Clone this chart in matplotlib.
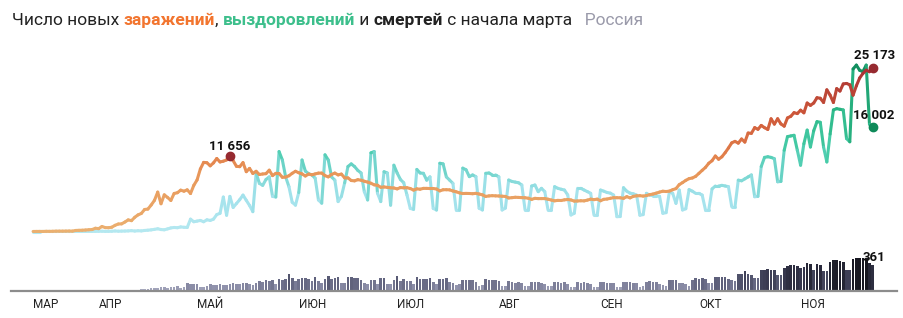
import numpy as np
import pandas as pd
import matplotlib
matplotlib.use('Agg')
import matplotlib.pyplot as plt
from matplotlib.collections import LineCollection
from matplotlib.colors import LinearSegmentedColormap, Normalize

plt.rcParams['font.family'] = ['Roboto', 'DejaVu Sans']

# daily data, 12 March .. 23 November 2020
cases_mar = [6, 11, 14, 4, 30, 21, 33, 52, 54, 53, 61, 71, 57, 163, 182, 196, 228, 270, 302, 501]
cases_apr = [440, 771, 601, 582, 658, 954, 1154, 1175, 1459, 1786, 1667, 2186, 2558, 2774, 3388,
             3448, 4070, 4785, 6060, 4268, 5642, 5236, 4774, 5849, 5966, 6361, 6198, 6411, 5841, 7099]
cases_may = [7933, 9623, 10633, 10581, 10102, 10559, 11231, 10699, 10817, 11012, 11656, 10899, 10028,
             9974, 10598, 9200, 9709, 8926, 9263, 8764, 8849, 8894, 9434, 8599, 8946, 8915, 8338, 8371,
             8572, 8952, 9268]
cases_jun = [9035, 8863, 8536, 8831, 8726, 8855, 8984, 8985, 8595, 8404, 8779, 8987, 8706, 8835, 8246,
             8248, 7843, 7790, 7972, 7889, 7728, 7600, 7425, 7176, 7113, 6800, 6852, 6791, 6719, 6693]
cases_jul = [6556, 6760, 6718, 6736, 6611, 6368, 6562, 6509, 6635, 6632, 6611, 6615, 6537, 6248, 6422,
             6428, 6406, 6234, 6109, 5940, 5842, 5862, 5848, 5811, 5871, 5765, 5635, 5395, 5475, 5509, 5482]
cases_aug = [5462, 5427, 5394, 5159, 5204, 5267, 5241, 5212, 5189, 5118, 4945, 5102, 5057, 5061, 5065,
             4969, 4839, 4718, 4790, 4767, 4870, 4921, 4852, 4676, 4696, 4729, 4711, 4829, 4980, 4897, 4980]
cases_sep = [4729, 4952, 4995, 5110, 5205, 5195, 5185, 5099, 5363, 5172, 5406, 5488, 5509, 5449, 5529,
             5670, 5762, 5905, 6065, 6196, 6148, 6215, 6431, 6595, 7212, 7523, 7867, 8135, 8232, 8481]
cases_oct = [8945, 9412, 9859, 10499, 10888, 11615, 11115, 11493, 12126, 12846, 13634, 13868, 13592,
             14231, 13754, 15150, 15099, 15982, 15722, 16319, 15971, 15700, 17340, 16521, 17347, 16550,
             16202, 17473, 17717, 18283, 18140]
cases_nov = [18665, 18257, 19768, 19404, 19768, 20582, 20498, 19850, 21798, 20977, 19851, 21983, 21608,
             22702, 22778, 22572, 20977, 22410, 23610, 24318, 24822, 24581, 25173]

recov_mar = [0, 0, 0, 2, 1, 3, 0, 2, 5, 4, 9, 0, 4, 8, 4, 10, 6, 12, 15, 20]
recov_apr = [30, 45, 20, 25, 40, 80, 45, 60, 70, 90, 130, 70, 120, 90, 160,
             200, 250, 330, 420, 300, 260, 400, 550, 620, 580, 700, 650, 620, 1900, 1500]
recov_may = [1600, 1700, 1500, 1800, 1700, 1900, 2600, 2800, 5300, 2500, 5400, 3700, 4300, 4900, 5600,
             4800, 4000, 3050, 9000, 7400, 7100, 8000, 8400, 5400, 5300, 12300, 11000, 8400, 6900, 4500, 4050]
recov_jun = [6000, 11000, 9300, 8900, 8700, 8200, 4850, 4350, 11800, 11000, 8400, 7900, 4600, 5400, 7500,
             10000, 10400, 10000, 9400, 9000, 6100, 4850, 12100, 12300, 5900, 4600, 9200, 9000, 4050, 10200]
recov_jul = [9000, 8000, 7500, 5600, 3550, 3400, 9550, 9000, 8950, 7900, 8400, 3550, 3300, 10500, 10400,
             8400, 7900, 7400, 3300, 3300, 9750, 9500, 8440, 8700, 8440, 3570, 3310, 8950, 9000, 8700, 8700]
recov_aug = [8400, 3310, 3600, 7920, 7700, 7600, 7500, 7150, 3310, 3310, 7000, 7150, 6130, 6640, 6130,
             3310, 3310, 6900, 6640, 6500, 6380, 5620, 2540, 2800, 6640, 6640, 6380, 6130, 5870, 2540, 2540]
recov_sep = [6380, 6200, 6000, 5900, 5600, 2280, 2300, 6740, 6200, 5900, 5800, 5600, 2500, 2600, 5870,
             5600, 5500, 5500, 5400, 2800, 2900, 6130, 5870, 4330, 6380, 3310, 3500, 6450, 6200, 5870]
recov_oct = [5870, 5600, 3310, 3310, 6550, 7000, 7000, 7100, 7000, 6900, 3820, 3820, 7900, 7800, 8100,
             8400, 8700, 5350, 5400, 10000, 11400, 11500, 11400, 11200, 7650, 7700, 12500, 14600, 14700,
             14800, 12500]
recov_nov = [10200, 13500, 15600, 13000, 15500, 16900, 16800, 13000, 10700, 15000, 18700, 18900, 18800,
             18700, 14300, 13800, 25000, 25600, 24800, 24600, 25600, 16500, 16002]

death_mar = [0, 0, 0, 0, 0, 0, 0, 1, 0, 0, 0, 0, 0, 1, 1, 1, 1, 1, 4, 2]
death_apr = [7, 4, 2, 9, 2, 2, 11, 13, 13, 18, 12, 12, 18, 24, 28, 34, 41, 48, 42, 51,
             57, 42, 50, 60, 66, 47, 50, 108, 101, 101]
death_may = [96, 57, 58, 76, 95, 86, 88, 98, 88, 88, 94, 107, 96, 93, 113, 119, 94, 91, 115, 135,
             127, 150, 139, 153, 92, 174, 161, 174, 232, 181, 138]
death_jun = [162, 182, 178, 169, 144, 197, 134, 112, 171, 216, 171, 181, 194, 113, 119, 193, 194, 182,
             181, 161, 109, 95, 153, 154, 92, 176, 188, 104, 93, 154]
death_jul = [216, 147, 168, 135, 135, 104, 198, 173, 174, 174, 188, 130, 94, 175, 167, 178, 121, 119,
             85, 95, 161, 154, 160, 152, 129, 65, 85, 169, 150, 154, 156]
death_aug = [147, 70, 77, 144, 129, 119, 129, 114, 70, 70, 130, 129, 129, 114, 94, 66, 68, 130, 129,
             114, 121, 95, 60, 60, 123, 117, 120, 118, 100, 56, 60]
death_sep = [123, 121, 119, 114, 110, 57, 55, 121, 122, 129, 119, 106, 58, 71, 129, 136, 122, 125, 92,
             85, 68, 160, 150, 160, 108, 108, 99, 74, 160, 177]
death_oct = [169, 186, 170, 117, 110, 202, 197, 201, 202, 174, 150, 145, 244, 243, 286, 240, 229, 184,
             179, 290, 300, 313, 300, 290, 229, 229, 320, 355, 366, 360, 350]
death_nov = [320, 330, 389, 385, 290, 374, 370, 286, 280, 400, 432, 439, 420, 400, 300, 300, 442, 456,
             463, 461, 467, 390, 361]

month_labels = ['МАР', 'АПР', 'МАЙ', 'ИЮН', 'ИЮЛ', 'АВГ', 'СЕН', 'ОКТ', 'НОЯ']

cases = np.array(cases_mar + cases_apr + cases_may + cases_jun + cases_jul + cases_aug
                 + cases_sep + cases_oct + cases_nov, dtype=float)
recov = np.array(recov_mar + recov_apr + recov_may + recov_jun + recov_jul + recov_aug
                 + recov_sep + recov_oct + recov_nov, dtype=float)
deaths = np.array(death_mar + death_apr + death_may + death_jun + death_jul + death_aug
                  + death_sep + death_oct + death_nov, dtype=float)

t0 = pd.Timestamp('2020-03-01')
dates = pd.date_range('2020-03-12', periods=len(cases))
day = (dates - t0).days.values.astype(float)
month_starts = [(pd.Timestamp(2020, m, 1) - t0).days for m in range(3, 12)]
month_starts[0] = day[0]

cmap_cases = LinearSegmentedColormap.from_list('cases', [(0, '#ebb070'), (0.35, '#e8975a'), (0.47, '#e2804b'),
                                                        (0.7, '#cf5a3a'), (1, '#a83033')])
cmap_recov = LinearSegmentedColormap.from_list('recov', [(0, '#b4e8f0'), (0.22, '#a2e2ec'), (0.4, '#66d2c4'),
                                                        (0.5, '#48cdaa'), (0.72, '#2cb887'), (1, '#128f5f')])
cmap_death = LinearSegmentedColormap.from_list('death', [(0, '#b5b7ca'), (0.2, '#8e90aa'), (0.4, '#62647f'),
                                                        (0.7, '#34354b'), (1, '#16161f')])
norm_lines = Normalize(0, 25173)
norm_death = Normalize(0, 467)


def grad_line(ax, x, y, cmap, norm, lw):
    pts = np.column_stack([x, y]).reshape(-1, 1, 2)
    segs = np.concatenate([pts[:-1], pts[1:]], axis=1)
    mid = (y[:-1] + y[1:]) / 2
    lc = LineCollection(segs, colors=cmap(norm(mid)), linewidths=lw,
                        capstyle='round', joinstyle='round')
    ax.add_collection(lc)


W, H = 904, 318
fig = plt.figure(figsize=(W / 100, H / 100), dpi=100)

# x in pixels = -3 + 3.28 * day
xlim = ((11 + 3) / 3.28, (897 + 3) / 3.28)

ax = fig.add_axes([11 / W, (H - 236) / H, 886 / W, 196 / H])
ax.set_xlim(xlim)
ax.set_ylim((231.5 - 236) / 0.0065, (231.5 - 40) / 0.0065)
ax.axis('off')

grad_line(ax, day, recov, cmap_recov, norm_lines, 2.2)
grad_line(ax, day, cases, cmap_cases, norm_lines, 2.2)

ipk = int(np.argmax(cases[:120]))
ax.plot(day[ipk], cases[ipk], 'o', color='#962a30', ms=6, zorder=5)
ax.plot(day[-1], cases[-1], 'o', color='#962a30', ms=6, zorder=5)
ax.plot(day[-1], recov[-1], 'o', color='#0e8a59', ms=6, zorder=5)

lab = dict(ha='center', va='bottom', fontsize=9.5, fontweight='bold', color='#111111',
           textcoords='offset points')
ax.annotate('11 656', (day[ipk], cases[ipk]), xytext=(0, 2), **lab)
ax.annotate('25 173', (day[-1], cases[-1]), xytext=(1, 4.5), **lab)
ax.annotate('16 002', (day[-1], recov[-1]), xytext=(1, 4), **lab)

# deaths
ax2 = fig.add_axes([11 / W, (H - 291) / H, 886 / W, 46 / H])
ax2.set_xlim(xlim)
ax2.set_ylim(0, 46 / 0.0714)
ax2.bar(day, deaths, width=0.8, color=cmap_death(norm_death(deaths)), linewidth=0)
ax2.annotate('361', (day[-1], deaths[-1]), xytext=(1, 1), **lab)
for s in ['top', 'left', 'right']:
    ax2.spines[s].set_visible(False)
ax2.spines['bottom'].set_color('#8c8c8c')
ax2.spines['bottom'].set_linewidth(1.6)
ax2.set_yticks([])
ax2.set_xticks(month_starts)
ax2.set_xticklabels(month_labels, fontsize=8.5, color='#222222', ha='left')
ax2.tick_params(axis='x', length=0, pad=5)

# title in coloured pieces
r = fig.canvas.get_renderer()
parts = [('Число новых ', '#222222', 'normal'),
         ('заражений', '#f2752f', 'bold'),
         (', ', '#222222', 'normal'),
         ('выздоровлений', '#3dbf8c', 'bold'),
         (' и ', '#222222', 'normal'),
         ('смертей', '#222222', 'bold'),
         (' с начала марта', '#222222', 'normal'),
         ('   Россия', '#9a9aaa', 'normal')]
x = 12
for s, c, w in parts:
    t = fig.text(x / W, 1 - 25 / H, s, color=c, fontsize=12.5, fontweight=w, va='baseline')
    x += t.get_window_extent(renderer=r).width

fig.savefig('out.png', dpi=100)
